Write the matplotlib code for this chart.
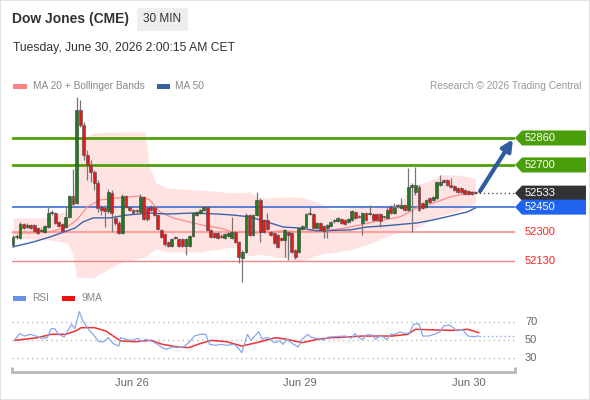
import matplotlib
matplotlib.use('Agg')
import matplotlib.pyplot as plt
from matplotlib.patches import Rectangle, Polygon
import numpy as np

plt.rcParams['font.family'] = ['Liberation Sans', 'DejaVu Sans']

# ---------------- data ----------------
opens = [52226,52273,52267,52350,52332,52344,52344,52326,52309,52303,
 52332,52415,52415,52362,52350,52332,52392,52516,52474,53026,
 52937,52759,52700,52658,52593,52451,52445,52427,52534,52386,
 52356,52297,52516,52451,52433,52427,52421,52510,52445,52451,
 52451,52403,52315,52291,52243,52220,52267,52261,52261,52220,
 52220,52279,52403,52415,52433,52451,52315,52297,52297,52279,
 52267,52279,52267,52303,52243,52148,52184,52403,52285,52403,
 52492,52374,52374,52303,52297,52285,52267,52255,52303,52297,
 52196,52184,52321,52332,52409,52409,52326,52356,52338,52326,
 52338,52368,52368,52380,52374,52362,52374,52421,52392,52356,
 52415,52409,52409,52409,52409,52392,52386,52451,52415,52457,
 52445,52463,52433,52569,52540,52569,52474,52451,52504,52492,
 52504,52581,52611,52611,52581,52575,52563,52563,52552,52546,
 52540,52534]
closes = [52273,52279,52350,52326,52344,52326,52309,52297,52315,52338,
 52415,52421,52356,52338,52309,52392,52516,52469,53026,52937,
 52759,52700,52658,52593,52445,52433,52427,52540,52415,52356,
 52297,52516,52451,52433,52415,52425,52510,52380,52380,52433,
 52403,52321,52273,52232,52220,52261,52273,52220,52220,52261,
 52279,52415,52421,52433,52451,52315,52273,52273,52267,52275,
 52291,52297,52303,52243,52154,52184,52403,52285,52403,52492,
 52303,52303,52321,52285,52238,52214,52255,52315,52285,52184,
 52154,52326,52338,52409,52415,52326,52356,52315,52309,52344,
 52362,52370,52386,52356,52350,52380,52427,52386,52390,52415,
 52374,52415,52374,52374,52368,52390,52433,52415,52445,52455,
 52463,52433,52569,52581,52581,52433,52445,52492,52480,52510,
 52599,52599,52599,52581,52569,52552,52540,52540,52528,52528,
 52528,52533]
highs = [52285,52291,52362,52356,52356,52350,52350,52332,52326,52344,
 52457,52433,52421,52368,52356,52457,52522,52676,53103,53085,
 52955,52789,52730,52670,52611,52463,52463,52558,52552,52403,
 52368,52528,52522,52457,52439,52439,52528,52516,52457,52463,
 52457,52409,52321,52297,52249,52267,52279,52267,52267,52267,
 52285,52421,52427,52439,52457,52457,52321,52303,52303,52291,
 52297,52303,52392,52309,52249,52196,52415,52409,52409,52540,
 52504,52380,52415,52309,52303,52291,52273,52321,52309,52303,
 52202,52332,52344,52415,52451,52415,52362,52362,52344,52350,
 52368,52380,52392,52386,52380,52386,52433,52427,52403,52421,
 52421,52463,52415,52415,52415,52397,52451,52463,52474,52469,
 52504,52469,52682,52593,52688,52581,52480,52498,52510,52516,
 52605,52641,52617,52617,52623,52581,52569,52569,52558,52552,
 52546,52540]
lows = [52214,52261,52261,52321,52326,52321,52303,52291,52303,52297,
 52326,52403,52350,52332,52303,52326,52386,52463,52469,52925,
 52730,52611,52599,52552,52421,52403,52332,52415,52303,52344,
 52291,52291,52445,52427,52409,52415,52415,52374,52368,52427,
 52397,52315,52267,52220,52214,52214,52261,52214,52214,52166,
 52214,52273,52397,52409,52427,52309,52267,52267,52261,52267,
 52261,52273,52261,52238,52119,52006,52178,52279,52279,52397,
 52243,52297,52315,52279,52232,52208,52249,52154,52137,52178,
 52143,52178,52315,52326,52403,52321,52321,52309,52267,52267,
 52332,52356,52362,52350,52344,52356,52368,52380,52386,52285,
 52368,52403,52368,52368,52332,52386,52380,52409,52409,52445,
 52439,52427,52427,52303,52522,52427,52439,52445,52474,52486,
 52498,52575,52593,52575,52563,52546,52534,52534,52522,52522,
 52522,52528]

ma50_idx = [0,5.7,10.5,15.3,17.6,19.8,22.7,27.5,32.3,38.8,43.6,51.0,57.8,62.3,67.1,72.0,76.5,81.3,86.1,95.5,100.3,104.8,114.4,119.0,123.8,128.6,131]
ma50_val = [52214,52243,52273,52309,52326,52362,52386,52386,52403,52415,52409,52415,52409,52403,52392,52362,52332,52326,52309,52315,52332,52338,52356,52374,52397,52421,52445]

ma20_idx = [0,5.7,10.5,15.3,18.1,21.0,24.6,29.5,36.0,38.8,41.6,45.3,51.0,54.9,58.6,62.3,69.1,76.5,81.3,90.7,95.5,104.8,109.6,114.4,119.0,123.8,128.6,131]
ma20_val = [52297,52297,52303,52332,52374,52451,52492,52504,52516,52492,52421,52386,52356,52338,52326,52303,52297,52309,52303,52315,52332,52374,52392,52445,52474,52510,52534,52540]

bb_up_idx = [0,5.7,10.5,15.3,17,18,19,22.7,30.3,37.5,38.5,40.5,43.6,52.9,62.3,67.1,69.9,76.5,81.3,86.1,90.7,95.5,100.3,104.8,109.6,113.3,117.3,121.0,125.8,131]
bb_up_val = [52386,52386,52392,52433,52492,52789,52850,52890,52896,52896,52700,52593,52563,52552,52534,52540,52504,52510,52510,52480,52433,52445,52463,52457,52474,52581,52599,52641,52641,52623]

bb_lo_idx = [0,10.5,15.3,17,18,22.7,27.5,34.0,37.9,39.7,43.6,48.2,53,62.3,67.1,72,76.5,81.3,84.1,86.1,95.5,100.3,104.8,109.6,114.4,119,123.8,128.6,131]
bb_lo_val = [52267,52255,52238,52166,52036,52030,52095,52154,52154,52208,52184,52172,52184,52214,52160,52178,52148,52125,52154,52166,52196,52226,52267,52303,52315,52386,52415,52433,52474]

rsi_idx = [0.6,1.9,3.3,4.9,6.5,8.1,9.7,10.8,11.8,12.9,14.5,15.6,16.6,17.5,18.8,19.8,21.4,23.1,24.3,25.7,27.0,28.4,30.0,30.5,32.1,33.8,35.4,36.4,37.5,39.1,40.7,42.3,43.4,45.0,46.6,48.2,49.8,51.4,53.0,54.6,55.7,57.3,58.9,60.5,62.6,63.7,64.8,66.4,67.4,68.5,69.6,70.6,71.7,72.8,73.9,75.5,76.5,77.6,79.2,80.8,81.9,83.5,84.6,86.2,87.8,89.4,91.0,92.6,94.2,95.8,96.9,97.9,99.0,100.1,101.7,102.7,103.8,104.9,105.9,107.0,108.1,109.7,111.3,112.4,113.4,115.0,116.1,117.7,119.3,120.9,122.0,123.6,124.7,125.7,127.3,128.9,130.5,131.9]
rsi_val = [50.7,57,54.4,56.3,54.4,51.9,52.6,62.6,62.6,56.3,53.3,60.7,67.4,62.6,81.5,71.1,61.9,54.4,48.1,48.1,52.6,45.9,43.3,52.6,50.7,49.6,51.9,48.1,50.7,48.9,45.9,41.5,39.6,42.2,41.5,42.2,47,54.4,56.3,56.3,45.2,44.1,45.2,44.1,45.2,41.5,35.9,56.3,49.6,54.4,59.3,50.7,52.6,51.9,47,48.9,45.2,50.7,45.9,42.2,50.7,56.3,52.6,51.9,50,53.3,53.7,54.1,54.4,51.9,57,52.6,50.7,55.6,55.6,50.7,54.4,53.3,50.7,56.3,56.3,58.9,57,58.1,67.4,68.1,54.4,54.4,56.3,58.9,65.6,66.7,63.7,60,61.9,54.4,53.7,54.4]

ma9_idx = [0.6,7,10.8,15,17.7,19.3,23.1,26.3,28.4,30.5,34.8,39.1,42.3,46.6,49.8,53,56.2,60.5,64.8,69,74.4,77.6,81.9,86.2,90.4,94.7,99,103.3,107.5,111.8,114,119.3,124.7,128.9,131.9]
ma9_val = [49.6,52.6,56.3,56.3,60,63.7,63.7,60,54.4,48.9,48.1,49.6,45.2,42.2,41.5,46,49.6,48.1,43.3,47,52.6,50.7,47,50.7,52.6,53.3,54.4,54.4,54.4,56.3,61.9,61.2,60.7,61.9,58.1]

levels_green = [52860, 52700]
level_last = 52533
level_blue = 52450
levels_red = [52300, 52130]
rsi_levels = [70, 50, 30]
date_labels = ['Jun 26', 'Jun 29', 'Jun 30']
date_pos = [33.7, 81.3, 129.2]

# ---------------- figure ----------------
W, H = 590, 400
fig = plt.figure(figsize=(W/100, H/100), dpi=100)
fig.patch.set_facecolor('white')

def fx(px): return px / W
def fy(py): return 1 - py / H

fig.patches.append(Rectangle((0, 0), 1, 1, transform=fig.transFigure,
                             fill=False, edgecolor='#e2e2e2', lw=1.5))

# header
fig.text(fx(12), fy(19), 'Dow Jones (CME)', fontsize=10, fontweight='bold',
         color='#333333', va='center', ha='left')
fig.patches.append(Rectangle((fx(137), fy(31)), fx(188)-fx(137), (31-8)/H,
                             transform=fig.transFigure, facecolor='#eeeeee', edgecolor='none'))
fig.text(fx(162.5), fy(19.5), '30 MIN', fontsize=8.5, color='#333333', va='center', ha='center')
fig.text(fx(13), fy(48), 'Tuesday, June 30, 2026 2:00:15 AM CET', fontsize=8.7,
         color='#333333', va='center', ha='left')

# legend
fig.patches.append(Rectangle((fx(13), fy(88.5)), fx(14), 5/H, transform=fig.transFigure,
                             facecolor='#ff8080', edgecolor='none'))
fig.text(fx(33), fy(86), 'MA 20 + Bollinger Bands', fontsize=7.3, color='#888888', va='center')
fig.patches.append(Rectangle((fx(157), fy(88.5)), fx(13), 5/H, transform=fig.transFigure,
                             facecolor='#3a5f9f', edgecolor='none'))
fig.text(fx(175), fy(86), 'MA 50', fontsize=7.3, color='#888888', va='center')
fig.text(fx(581), fy(86), 'Research \u00a9 2026 Trading Central', fontsize=7.3,
         color='#999999', va='center', ha='right')

# ---------------- price axes ----------------
ax = fig.add_axes([fx(12), fy(285), fx(515) - fx(12), (285 - 95) / H])
ax.set_xlim(-0.28, 142.2)
ax.set_ylim(51988, 53115)
ax.axis('off')

x = np.arange(len(closes))
o = np.array(opens); c = np.array(closes); h = np.array(highs); l = np.array(lows)

ax.fill_between(np.array(bb_up_idx), bb_up_val,
                np.interp(bb_up_idx, bb_lo_idx, bb_lo_val),
                color='#ffe3e3', lw=0, zorder=1)

for lv in levels_green:
    ax.axhline(lv, color='#4f9f0a', lw=2, zorder=2)
ax.axhline(level_blue, color='#3c6fd6', lw=1.2, zorder=2)
ax.axhline(levels_red[0], color='#ffa0a0', lw=1.5, zorder=2)
ax.axhline(levels_red[1], color='#ee8888', lw=1, zorder=2)

ax.plot(ma20_idx, ma20_val, color='#ff8a8a', lw=0.9, zorder=3)
ax.plot(ma50_idx, ma50_val, color='#3a64a8', lw=1.0, zorder=3)

ax.vlines(x, l, h, color='#777777', lw=0.9, zorder=4)
up = c >= o
body_b = np.minimum(o, c)
body_h = np.maximum(np.abs(c - o), 5)
ax.bar(x[up], body_h[up], bottom=body_b[up], width=0.82, color='#1e7b1e',
       edgecolor='#3a3a3a', lw=0.4, zorder=5)
ax.bar(x[~up], body_h[~up], bottom=body_b[~up], width=0.82, color='#e01b1b',
       edgecolor='#4a4a4a', lw=0.4, zorder=5)

ax.plot([x[-1], 142.2], [level_last, level_last], ls=(0, (1, 2)), color='#555555', lw=1,
        zorder=3, clip_on=False)

ax.annotate('', xy=(141.6, 52852), xytext=(132.3, 52545),
            arrowprops=dict(arrowstyle='-|>', color='#2d5d9c', lw=3, mutation_scale=16,
                            shrinkA=0, shrinkB=0), zorder=6)

fig.canvas.draw()

def price_to_py(p):
    yd = ax.transData.transform((0, p))[1]
    return H - yd

def label_box(p, color):
    yc = price_to_py(p)
    pts = [(515, yc), (522, yc - 7.5), (586, yc - 7.5), (586, yc + 7.5), (522, yc + 7.5)]
    fig.patches.append(Polygon([(fx(a), fy(b)) for a, b in pts], closed=True,
                               transform=fig.transFigure, facecolor=color, edgecolor='none'))
    fig.text(fx(525), fy(yc), str(p), fontsize=8, color='white', va='center', ha='left')

for lv in levels_green:
    label_box(lv, '#4a9e0a')
label_box(level_last, '#333333')
label_box(level_blue, '#1f63ee')
for lv in levels_red:
    fig.text(fx(525), fy(price_to_py(lv)), str(lv), fontsize=8, color='#ff2020',
             va='center', ha='left')

# ---------------- RSI ----------------
fig.patches.append(Rectangle((fx(13), fy(300.5)), fx(13), 5/H, transform=fig.transFigure,
                             facecolor='#6a8fe8', edgecolor='none'))
fig.text(fx(32), fy(298), 'RSI', fontsize=7.3, color='#888888', va='center')
fig.patches.append(Rectangle((fx(62), fy(300.5)), fx(13), 5/H, transform=fig.transFigure,
                             facecolor='#ee1111', edgecolor='none'))
fig.text(fx(82), fy(298), '9MA', fontsize=7.3, color='#888888', va='center')

ax2 = fig.add_axes([fx(12), fy(372), fx(515) - fx(12), (372 - 305) / H])
ax2.set_xlim(-0.28, 142.2)
ax2.set_ylim(14.4, 88.9)
for s in ['top', 'right', 'left']:
    ax2.spines[s].set_visible(False)
ax2.spines['bottom'].set_color('#b8b8b8')
ax2.spines['bottom'].set_linewidth(2)
ax2.set_yticks([])
ax2.set_xticks(date_pos)
ax2.set_xticklabels(date_labels)
ax2.tick_params(axis='x', length=0, pad=4.5, labelcolor='#666666', labelsize=8)
for v in rsi_levels:
    ax2.axhline(v, color='#bbbbbb', ls=(0, (1, 2.5)), lw=1)
    fig.text(fx(525), fy(H - ax2.transData.transform((0, v))[1]), str(v), fontsize=8,
             color='#666666', va='center', ha='left')
for xe in ax2.get_xlim():
    ax2.plot([xe, xe], [14.4, 20.0], color='#b8b8b8', lw=2, clip_on=False, solid_capstyle='butt')

ax2.plot(ma9_idx, ma9_val, color='#ee3030', lw=1.1, zorder=3)
ax2.plot(rsi_idx, rsi_val, color='#8aa6ec', lw=0.9, zorder=4)
ax2.plot([rsi_idx[-1], 142.2], [rsi_val[-1], rsi_val[-1]], ls=(0, (1, 2)), color='#8aa6ec',
         lw=1, clip_on=False)

fig.savefig('out.png', dpi=100)
